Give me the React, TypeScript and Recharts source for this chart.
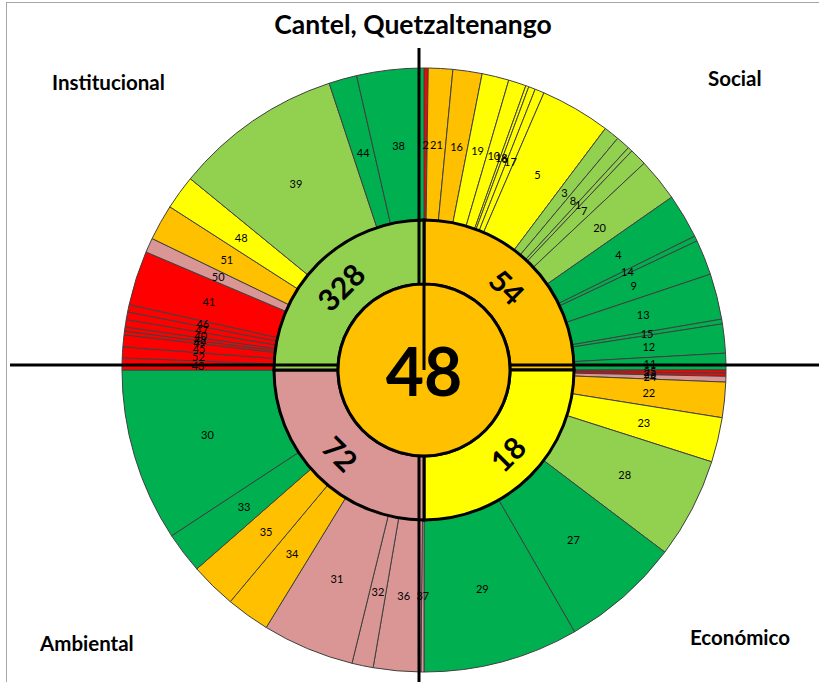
import { PieChart, Pie, Cell } from 'recharts';

const W = 819;
const H = 682;
const CX = 419;
const CY = 365;
const FONT = 'Lato, "Open Sans", sans-serif';

// indicator numbers, their share of the quadrant (deg) and colour level, clockwise
const socialIds = ['2', '21', '16', '19', '10', '18', '6', '17', '5', '3', '8', '1', '7', '20', '4', '14', '9', '13', '15', '12', '11'];
const socialVals = [0.8, 4.7, 5.6, 5.2, 3.4, 0.6, 1.3, 1.8, 13.5, 3.0, 2.7, 0.9, 3.3, 8.3, 8.6, 1.0, 6.8, 8.8, 0.9, 5.6, 3.2];
const socialLvl = ['r', 'o', 'o', 'y', 'y', 'y', 'y', 'y', 'y', 'lg', 'lg', 'lg', 'lg', 'lg', 'g', 'g', 'g', 'g', 'g', 'g', 'g'];

const econIds = ['25', '26', '24', '22', '23', '28', '27', '29'];
const econVals = [0.6, 0.6, 1.1, 6.8, 8.6, 19.4, 23.0, 29.9];
const econLvl = ['r', 'r', 'p', 'o', 'y', 'lg', 'g', 'g'];

const ambIds = ['37', '36', '32', '31', '34', '35', '33', '30'];
const ambVals = [0.6, 9.1, 4.1, 17.7, 8.4, 8.9, 7.9, 33.3];
const ambLvl = ['p', 'p', 'p', 'p', 'o', 'o', 'g', 'g'];

const instIds = ['43', '52', '45', '49', '42', '40', '47', '46', '41', '50', '51', '48', '39', '44', '38'];
const instVals = [2.3, 2.1, 2.3, 0.7, 0.8, 1.4, 1.5, 1.4, 10.5, 2.8, 6.9, 6.6, 32.4, 5.4, 12.9];
const instLvl = ['r', 'r', 'r', 'r', 'r', 'r', 'r', 'r', 'r', 'p', 'o', 'y', 'lg', 'g', 'g'];

const dimNames = ['Social', 'Económico', 'Ambiental', 'Institucional'];
const dimScores = [54, 18, 72, 328];
const dimLvl = ['o', 'y', 'p', 'lg'];

const totalName = 'Cantel, Quetzaltenango';
const totalScore = 48;
const totalLvl = 'o';

const COLORS: Record<string, string> = {
  r: '#FF0000',
  o: '#FFC000',
  y: '#FFFF00',
  lg: '#92D050',
  g: '#00B050',
  p: '#D99694',
};

const RADIAN = Math.PI / 180;

const build = (ids: string[], vals: number[], lvl: string[]) =>
  ids.map((id, i) => ({ name: id, value: vals[i], lvl: lvl[i] }));

const quadrants = [
  { data: build(socialIds, socialVals, socialLvl), start: 90, end: 0 },
  { data: build(econIds, econVals, econLvl), start: 0, end: -90 },
  { data: build(ambIds, ambVals, ambLvl), start: -90, end: -180 },
  { data: build(instIds, instVals, instLvl), start: 180, end: 90 },
];

const dimData = dimNames.map((n, i) => ({ name: n, score: dimScores[i], size: 1, lvl: dimLvl[i] }));
const totalData = [{ name: totalName, value: totalScore, lvl: totalLvl }];

const outerLabel = (p: any) => {
  const r = (p.innerRadius + p.outerRadius) / 2;
  const x = p.cx + r * Math.cos(-p.midAngle * RADIAN);
  const y = p.cy + r * Math.sin(-p.midAngle * RADIAN);
  return (
    <text x={x} y={y} textAnchor="middle" dominantBaseline="central" fontSize={11} fontFamily={FONT} fill="#000">
      {p.name}
    </text>
  );
};

const dimLabel = (p: any) => {
  const r = (p.innerRadius + p.outerRadius) / 2;
  const x = p.cx + r * Math.cos(-p.midAngle * RADIAN);
  const y = p.cy + r * Math.sin(-p.midAngle * RADIAN);
  let rot = 90 - p.midAngle;
  while (rot > 90) rot -= 180;
  while (rot <= -90) rot += 180;
  return (
    <text
      x={x}
      y={y}
      textAnchor="middle"
      dominantBaseline="central"
      fontSize={30}
      fontWeight="bold"
      fontFamily={FONT}
      fill="#000"
      transform={`rotate(${rot} ${x} ${y})`}
    >
      {dimScores[p.index]}
    </text>
  );
};

const totalLabel = (p: any) => (
  <text x={p.cx} y={p.cy} textAnchor="middle" dominantBaseline="central" fontSize={66} fontWeight="bold" fontFamily={FONT} fill="#000">
    {totalScore}
  </text>
);

const layer: React.CSSProperties = { position: 'absolute', left: 0, top: 0 };

export default function App() {
  return (
    <div style={{ position: 'absolute', left: 0, top: 0, width: W, height: H, overflow: 'hidden', background: '#fff', fontFamily: FONT }}>
      <div style={layer}>
        <PieChart width={W} height={H}>
          {quadrants.map((q, qi) => (
            <Pie
              key={qi}
              data={q.data}
              dataKey="value"
              nameKey="name"
              cx={CX}
              cy={CY}
              innerRadius={150}
              outerRadius={302}
              startAngle={q.start}
              endAngle={q.end}
              stroke="#404040"
              strokeWidth={1}
              label={outerLabel}
              labelLine={false}
              isAnimationActive={false}
            >
              {q.data.map((d, i) => (
                <Cell key={i} fill={COLORS[d.lvl]} />
              ))}
            </Pie>
          ))}
          <Pie
            data={dimData}
            dataKey="size"
            nameKey="name"
            cx={CX}
            cy={CY}
            innerRadius={86}
            outerRadius={150}
            startAngle={90}
            endAngle={-270}
            stroke="#000"
            strokeWidth={3}
            label={dimLabel}
            labelLine={false}
            isAnimationActive={false}
          >
            {dimData.map((d, i) => (
              <Cell key={i} fill={COLORS[d.lvl]} />
            ))}
          </Pie>
        </PieChart>
      </div>
      <svg style={layer} width={W} height={H}>
        <rect x={6.5} y={2.5} width={900} height={900} fill="none" stroke="#a6a6a6" strokeWidth={1} />
        <line x1={10} y1={CY} x2={W} y2={CY} stroke="#000" strokeWidth={3} />
        <line x1={CX} y1={48} x2={CX} y2={H} stroke="#000" strokeWidth={3} />
        <text x={413} y={34} textAnchor="middle" fontSize={26.5} fontWeight="bold" fontFamily={FONT}>
          {totalName}
        </text>
        <text x={52} y={90} fontSize={20.5} fontWeight="bold" fontFamily={FONT}>Institucional</text>
        <text x={708} y={86} fontSize={20.5} fontWeight="bold" fontFamily={FONT}>Social</text>
        <text x={40} y={651} fontSize={20.5} fontWeight="bold" fontFamily={FONT}>Ambiental</text>
        <text x={690} y={645} fontSize={20.5} fontWeight="bold" fontFamily={FONT}>Económico</text>
      </svg>
      <div style={layer}>
        <PieChart width={W} height={H}>
          <Pie
            data={totalData}
            dataKey="value"
            nameKey="name"
            cx={CX}
            cy={CY}
            innerRadius={0}
            outerRadius={86}
            startAngle={90}
            endAngle={-270}
            stroke="#000"
            strokeWidth={3}
            label={totalLabel}
            labelLine={false}
            isAnimationActive={false}
          >
            <Cell fill={COLORS[totalLvl]} />
          </Pie>
        </PieChart>
      </div>
    </div>
  );
}
